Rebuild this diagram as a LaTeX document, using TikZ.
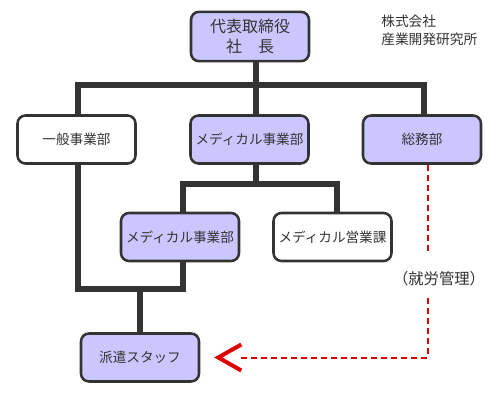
\documentclass[tikz,border=0pt]{standalone}
\usepackage{fontspec}
\setmainfont{Noto Sans CJK JP}
\usetikzlibrary{calc}
\definecolor{boxline}{HTML}{333333}
\definecolor{textc}{HTML}{333333}
\definecolor{redc}{HTML}{DD0000}
\definecolor{lavender}{HTML}{CCC6FF}
\begin{document}
\begin{tikzpicture}[x=0.75pt,y=-0.75pt,
  box/.style={draw=boxline, line width=1.9pt, rounded corners=6pt,
    minimum width=88.5pt, minimum height=36pt, inner sep=0pt,
    font=\fontsize{10.2}{12}\selectfont, text=textc},
  lav/.style={box, fill=lavender},
  wht/.style={box, fill=white},
  conn/.style={draw=boxline, line width=4.5pt},
  mgmt/.style={draw=redc, line width=1.5pt, dash pattern=on 4.5pt off 3pt},
  chev/.style={draw=redc, line width=3pt},
  plain/.style={inner sep=0pt, text=textc, font=\fontsize{10.3}{13.5}\selectfont}]
\useasboundingbox[fill=white] (0,0) rectangle (500,400);
% nodes
\node[lav, minimum height=37pt, align=center, font=\fontsize{12}{15}\selectfont] (ceo) at (250,36.5) {代表取締役\\社　長};
\node[wht] (ippan) at (76.5,139.5) {一般事業部};
\node[lav] (med) at (249.5,139.5) {メディカル事業部};
\node[lav] (soumu) at (422,139.5) {総務部};
\node[lav] (med2) at (180,237) {メディカル事業部};
\node[wht] (eigyo) at (332.5,237) {メディカル営業課};
\node[lav] (haken) at (140,357.5) {派遣スタッフ};
\node[plain, anchor=west, align=left] (corp) at (381,30) {株式会社\\産業開発研究所};
\node[plain, font=\fontsize{11.5}{13}\selectfont] (lbl) at (439,279) {（就労管理）};
% connectors
\draw[conn] ($(ceo.south)+(6,0)$) -- ($(med.north)+(6.5,0)$);
\draw[conn] ($(ippan.north)+(1.5,0)$) |- ($(soumu.north)+(2,-29)$) -- ($(soumu.north)+(2,0)$);
\draw[conn] ($(med.south)+(6.5,0)$) -- ($(med.south)+(6.5,22)$);
\draw[conn] ($(med2.north)+(3,0)$) |- ($(eigyo.north)+(4.5,-28)$) -- ($(eigyo.north)+(4.5,0)$);
\draw[conn] ($(ippan.south)+(1.5,0)$) |- ($(med2.south)+(3,27)$) -- ($(med2.south)+(3,0)$);
\draw[conn] (haken.north) -- ($(haken.north)+(0,-45.5)$);
% management line
\coordinate (tip) at ($(haken.east)+(18,0)$);
\draw[mgmt] ($(soumu.south)+(6,0)$) -- ($(soumu.south)+(6,90)$);
\draw[mgmt] ($(soumu.south)+(6,133.5)$) |- ($(tip)+(23,0)$);
\draw[chev] ($(tip)+(23,-13)$) -- (tip) -- ($(tip)+(23,13)$);
\end{tikzpicture}
\end{document}
